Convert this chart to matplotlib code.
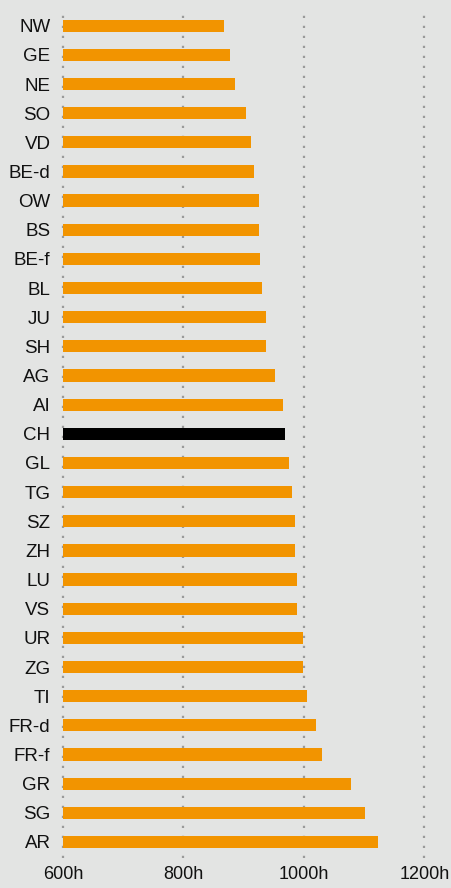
import matplotlib
matplotlib.use("Agg")
import matplotlib.pyplot as plt

cantons = ["NW", "GE", "NE", "SO", "VD", "BE-d", "OW", "BS", "BE-f", "BL",
           "JU", "SH", "AG", "AI", "CH", "GL", "TG", "SZ", "ZH", "LU",
           "VS", "UR", "ZG", "TI", "FR-d", "FR-f", "GR", "SG", "AR"]
hours = [867, 877, 886, 904, 912, 917, 926, 926, 927, 931,
         937, 937, 952, 965, 969, 975, 980, 985, 985, 989,
         989, 999, 999, 1005, 1020, 1030, 1078, 1102, 1123]
xticks = [600, 800, 1000, 1200]
xticklabels = ["600h", "800h", "1000h", "1200h"]

BG = "#e3e4e3"
ORANGE = "#f29400"

plt.rcParams["font.family"] = ["Liberation Sans", "DejaVu Sans"]

fig = plt.figure(figsize=(4.52, 8.88), dpi=100, facecolor=BG)
ax = fig.add_axes([63 / 452, 30 / 888, 1 - 63 / 452, 846 / 888])
ax.set_facecolor(BG)

colors = ["black" if c == "CH" else ORANGE for c in cantons]
ypos = list(range(len(cantons)))
ax.barh(ypos, [h - 600 for h in hours], left=600, height=0.42, color=colors, zorder=3)

ax.set_xlim(600, 1246)
ax.set_ylim(len(cantons) - 0.45, -0.47)
ax.set_yticks(ypos)
ax.set_yticklabels(cantons, fontsize=13.5, color="#111111")
ax.set_xticks(xticks)
ax.set_xticklabels(xticklabels, fontsize=13, color="#111111")
ax.tick_params(length=0, axis="y", pad=9)
ax.tick_params(length=0, axis="x", pad=6)
ax.xaxis.grid(True, linestyle=(0, (1, 3.5)), color="#9a9a9a", linewidth=1.6, zorder=1)
for gl in ax.get_xgridlines():
    gl.set_clip_on(False)
for s in ax.spines.values():
    s.set_visible(False)

fig.savefig("out.png", dpi=100, facecolor=BG)
